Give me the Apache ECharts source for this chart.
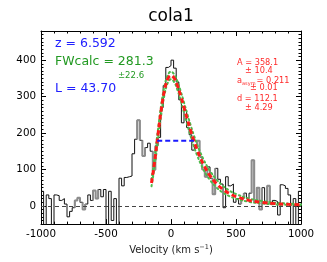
<!DOCTYPE html>
<html><head><meta charset="utf-8">
<script src="https://cdn.jsdelivr.net/npm/echarts@6/dist/echarts.min.js"></script>
<style>html,body{margin:0;padding:0;background:#fff}#c{width:327px;height:262px}</style>
</head><body><div id="c"></div>
<script>
// ---- data ----
const velEdges = [-1000,-980,-960,-940,-920,-900,-880,-860,-840,-820,
  -800,-780,-760,-740,-720,-700,-680,-660,-640,-620,
  -600,-580,-560,-540,-520,-500,-480,-460,-440,-420,
  -400,-380,-360,-340,-320,-300,-280,-260,-240,-220,
  -200,-180,-160,-140,-120,-100,-80,-60,-40,-20,
  0,20,40,60,80,100,120,140,160,180,
  200,220,240,260,280,300,320,340,360,380,
  400,420,440,460,480,500,520,540,560,580,
  600,620,640,660,680,700,720,740,760,780,
  800,820,840,860,880,900,920,940,960,980];
const velEnd = 1000;
const flux = [40,-60,30,20,-60,30,28,15,20,5,
  -30,-15,-5,15,22,10,-10,5,30,15,
  42,20,45,25,45,-60,40,-40,20,-60,
  76,55,78,80,82,143,183,235,180,137,
  160,172,150,99,165,188,270,330,380,385,
  400,378,340,291,228,262,215,195,153,160,
  179,134,100,80,107,76,32,103,73,60,
  -5,80,55,60,10,20,5,20,35,20,
  35,125,10,50,-10,50,10,55,5,15,
  12,-25,58,55,48,30,-60,20,-60,40];
const greyBins = [13,14,16,20,21,37,39,43,60,62,63,66,77,81,83,84,87];

const fitVel = [-150,-125,-100,-75,-50,-25,0,25,50,75,100,125,150,175,200,225,250,275,300,350,400,450,500,600,700,800,900,1000];
const fitRed = [63.0,123.7,195.8,264.4,317.2,348.4,358.1,350.1,329.6,301.6,270.2,238.3,207.8,179.7,154.6,132.5,113.4,97.0,82.9,60.9,45.1,33.8,25.6,15.2,9.5,6.2,4.2,3.0];
const fitUp = [72.7,136.7,210.0,277.9,329.3,359.2,368.5,360.8,341.2,314.3,283.9,252.8,222.8,194.9,169.7,147.3,127.6,110.5,95.7,72.1,54.7,41.9,32.5,20.2,13.1,8.9,6.3,4.6];
const fitLo = [53.8,110.9,181.5,250.7,305.1,337.6,347.7,339.3,317.8,288.6,256.2,223.5,192.5,164.4,139.5,118.0,99.5,83.9,70.7,50.5,36.3,26.5,19.5,11.0,6.6,4.1,2.7,1.8];

const fwhmVel = [-106, 176];
const halfMax = 179;

const yMajorTicks = [0,100,200,300,400];

// ---- build ----
const hist = velEdges.map((x,i)=>[x, flux[i]]);
hist.push([velEnd, flux[flux.length-1]]);

const runs = [];
greyBins.forEach(k=>{
  const r = runs[runs.length-1];
  if (r && r[1] === k-1) r[1] = k; else runs.push([k,k]);
});
const greySeries = runs.map(([s,e])=>{
  const pts = [[velEdges[s], s>0 ? flux[s-1] : flux[s]]];
  for (let k=s;k<=e;k++) pts.push([velEdges[k], flux[k]]);
  const nx = e+1 < velEdges.length ? velEdges[e+1] : velEnd;
  const ny = e+1 < flux.length ? flux[e+1] : flux[e];
  pts.push([nx, ny]);
  return {type:'line', step:'end', data:pts, symbol:'none', silent:true,
    lineStyle:{color:'#8c8c8c', width:2}, z:3};
});
const zip = (xs, ys)=>xs.map((x,i)=>[x, ys[i]]);

const F = 'DejaVu Sans';
const black = '#000';
const tickStyle = {color:black, width:1};
const baseY = {type:'value', min:-50, max:480, splitLine:{show:false}};
const baseX = {type:'value', min:-1000, max:1000, interval:500, splitLine:{show:false}};
const plain = v => String(v);

const chart = echarts.init(document.getElementById('c'), null, {renderer:'canvas'});
chart.setOption({
  animation:false,
  backgroundColor:'#fff',
  grid:{left:41, right:26, top:31, bottom:33, containLabel:false},
  xAxis:[
    Object.assign({}, baseX, {position:'bottom',
      axisLine:{show:true, onZero:false, lineStyle:{color:black, width:1}},
      axisTick:{show:true, inside:true, length:5, lineStyle:tickStyle},
      minorTick:{show:true, splitNumber:5, length:2.5, lineStyle:tickStyle},
      axisLabel:{fontFamily:F, fontSize:10.3, color:black, margin:5, formatter:plain},
      name:'Velocity (km s{sup|−1})', nameLocation:'middle', nameGap:19,
      nameTextStyle:{fontFamily:F, fontSize:10, color:'#222', lineHeight:13,
        rich:{sup:{fontFamily:F, fontSize:6.5, color:'#222', lineHeight:13, verticalAlign:'top'}}}
    }),
    Object.assign({}, baseX, {position:'top',
      axisLine:{show:true, onZero:false, lineStyle:{color:black, width:1}},
      axisTick:{show:true, inside:true, length:5, lineStyle:tickStyle},
      minorTick:{show:true, splitNumber:5, length:2.5, lineStyle:tickStyle},
      axisLabel:{show:false}
    })
  ],
  yAxis:[
    Object.assign({}, baseY, {position:'left',
      axisLine:{show:true, onZero:false, lineStyle:{color:black, width:1}},
      axisTick:{show:true, inside:true, length:5, lineStyle:tickStyle, customValues:yMajorTicks},
      axisLabel:{fontFamily:F, fontSize:10.3, color:black, margin:5, customValues:yMajorTicks, formatter:plain}
    }),
    Object.assign({}, baseY, {position:'left', interval:10,
      axisLine:{show:false, onZero:false}, axisLabel:{show:false},
      axisTick:{show:true, inside:true, length:2.5, lineStyle:tickStyle}
    }),
    Object.assign({}, baseY, {position:'right',
      axisLine:{show:true, onZero:false, lineStyle:{color:black, width:1}},
      axisTick:{show:true, inside:true, length:5, lineStyle:tickStyle, customValues:yMajorTicks},
      axisLabel:{show:false}
    }),
    Object.assign({}, baseY, {position:'right', interval:10,
      axisLine:{show:false, onZero:false}, axisLabel:{show:false},
      axisTick:{show:true, inside:true, length:2.5, lineStyle:tickStyle}
    })
  ],
  series:[
    {type:'line', data:[], symbol:'none', silent:true,
      markLine:{silent:true, symbol:['none','none'], label:{show:false},
        lineStyle:{color:'#444', type:[4,3], width:1}, data:[{yAxis:0}]}, z:1},
    {type:'line', step:'end', data:hist, symbol:'none', silent:true,
      lineStyle:{color:'#111', width:1}, z:2},
    ...greySeries,
    {type:'line', data:zip(fitVel, fitUp), symbol:'none', smooth:0.4, silent:true,
      lineStyle:{color:'#4cbb4c', width:2, type:[1.5,3], cap:'round'}, z:4},
    {type:'line', data:zip(fitVel, fitLo), symbol:'none', smooth:0.4, silent:true,
      lineStyle:{color:'#4cbb4c', width:2, type:[1.5,3], cap:'round'}, z:4},
    {type:'line', data:zip(fitVel, fitRed), symbol:'none', smooth:0.4, silent:true,
      lineStyle:{color:'#ff1a1a', width:3, type:[5,3]}, z:5},
    {type:'line', data:fwhmVel.map(v=>[v, halfMax]), symbol:'none', silent:true,
      lineStyle:{color:'#1a1aff', width:2, type:[5,3]}, z:6}
  ],
  graphic:[
    {type:'text', x:171, y:17, style:{text:'cola1', font:'17px "DejaVu Sans"', fill:'#000', align:'center', verticalAlign:'middle'}},
    {type:'text', x:55, y:44, style:{text:'z = 6.592', font:'12.5px "DejaVu Sans"', fill:'#2020ff', verticalAlign:'middle'}},
    {type:'text', x:55, y:62, style:{text:'FWcalc = 281.3', font:'12.5px "DejaVu Sans"', fill:'#229922', verticalAlign:'middle'}},
    {type:'text', x:118, y:76, style:{text:'±22.6', font:'8.5px "DejaVu Sans"', fill:'#229922', verticalAlign:'middle'}},
    {type:'text', x:55, y:89, style:{text:'L = 43.70', font:'12.5px "DejaVu Sans"', fill:'#2020ff', verticalAlign:'middle'}},
    {type:'text', x:237, y:63, style:{text:'A = 358.1', font:'8.2px "DejaVu Sans"', fill:'#ff2a2a', verticalAlign:'middle'}},
    {type:'text', x:245, y:71, style:{text:'± 10.4', font:'8.2px "DejaVu Sans"', fill:'#ff2a2a', verticalAlign:'middle'}},
    {type:'text', x:237, y:81, style:{text:'a', font:'8.2px "DejaVu Sans"', fill:'#ff2a2a', verticalAlign:'middle'}},
    {type:'text', x:242, y:84, style:{text:'asym', font:'5px "DejaVu Sans"', fill:'#ff2a2a', verticalAlign:'middle'}},
    {type:'text', x:254, y:81, style:{text:' = 0.211', font:'8.2px "DejaVu Sans"', fill:'#ff2a2a', verticalAlign:'middle'}},
    {type:'text', x:250, y:88, style:{text:'± 0.01', font:'8.2px "DejaVu Sans"', fill:'#ff2a2a', verticalAlign:'middle'}},
    {type:'text', x:237, y:99, style:{text:'d = 112.1', font:'8.2px "DejaVu Sans"', fill:'#ff2a2a', verticalAlign:'middle'}},
    {type:'text', x:245, y:108, style:{text:'± 4.29', font:'8.2px "DejaVu Sans"', fill:'#ff2a2a', verticalAlign:'middle'}}
  ]
});
</script></body></html>
